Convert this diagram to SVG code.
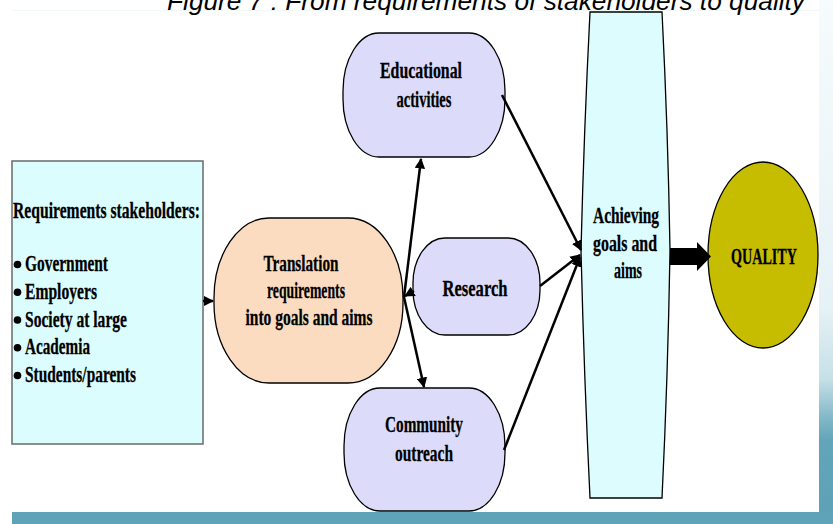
<svg xmlns="http://www.w3.org/2000/svg" width="833" height="524" viewBox="0 0 833 524">
  <defs>
    <linearGradient id="sideBar" x1="0" y1="0" x2="0" y2="1">
      <stop offset="0" stop-color="#f6fbfd"/>
      <stop offset="0.6" stop-color="#e6f2f6"/>
      <stop offset="0.74" stop-color="#c6e0e8"/>
      <stop offset="0.82" stop-color="#7fb6c6"/>
      <stop offset="0.86" stop-color="#62a5b9"/>
      <stop offset="1" stop-color="#5ea2b7"/>
    </linearGradient>
    <marker id="head" viewBox="0 0 10 10" refX="9" refY="5" markerWidth="4.2" markerHeight="4.2" orient="auto" markerUnits="strokeWidth">
      <path d="M0,0 L10,5 L0,10 Z" fill="#000"/>
    </marker>
    <style>
      .lbl { font-family: "Liberation Serif", "Times New Roman", serif; font-weight: bold; font-size: 24px; fill: #000; stroke: #000; stroke-width: 0.3; }
      .mid { text-anchor: middle; }
      .node { stroke: #000; stroke-width: 1.3; }
      .edge { stroke: #000; stroke-width: 2.5; fill: none; marker-end: url(#head); }
      .title { font-family: "Liberation Sans", Arial, sans-serif; font-style: italic; font-size: 26px; fill: #000; }
    </style>
  </defs>

  <!-- page background and slide frame -->
  <rect x="0" y="0" width="833" height="524" fill="#fff"/>
  <rect x="819" y="0" width="14" height="512" fill="url(#sideBar)"/>
  <rect x="12" y="512" width="821" height="12" fill="#5fa3b8"/>
  <line x1="12" y1="10.5" x2="819" y2="10.5" stroke="#f2f8f8" stroke-width="1"/>

  <text class="title" x="167" y="10" textLength="638" lengthAdjust="spacingAndGlyphs">Figure 7 : From requirements of stakeholders to quality</text>

  <!-- stakeholders box -->
  <g id="stakeholders">
    <rect x="12" y="161" width="191" height="283" fill="#dcfdfd" stroke="#6a6a6a" stroke-width="1.5"/>
    <text class="lbl" x="13" y="218" textLength="187" lengthAdjust="spacingAndGlyphs">Requirements stakeholders:</text>
    <g fill="#000">
      <circle cx="17.5" cy="264.5" r="3.8"/>
      <circle cx="17.5" cy="292.3" r="3.8"/>
      <circle cx="17.5" cy="320" r="3.8"/>
      <circle cx="17.5" cy="347.8" r="3.8"/>
      <circle cx="17.5" cy="375.5" r="3.8"/>
    </g>
    <text class="lbl" x="25" y="271" textLength="83" lengthAdjust="spacingAndGlyphs">Government</text>
    <text class="lbl" x="25" y="299" textLength="72" lengthAdjust="spacingAndGlyphs">Employers</text>
    <text class="lbl" x="25" y="327" textLength="102" lengthAdjust="spacingAndGlyphs">Society at large</text>
    <text class="lbl" x="25" y="354" textLength="65" lengthAdjust="spacingAndGlyphs">Academia</text>
    <text class="lbl" x="25" y="382" textLength="111" lengthAdjust="spacingAndGlyphs">Students/parents</text>
  </g>

  <!-- translation -->
  <g id="translation">
    <rect class="node" x="214" y="218" width="189" height="165" rx="55" ry="80" fill="#fcdcc0"/>
    <text class="lbl mid" x="301" y="271" textLength="75" lengthAdjust="spacingAndGlyphs">Translation</text>
    <text class="lbl mid" x="306" y="298" textLength="78" lengthAdjust="spacingAndGlyphs">requirements</text>
    <text class="lbl mid" x="309" y="325" textLength="127" lengthAdjust="spacingAndGlyphs">into goals and aims</text>
  </g>

  <!-- educational activities -->
  <g id="educational">
    <rect class="node" x="343" y="33" width="162" height="124" rx="36" ry="58" fill="#dcdcfa"/>
    <text class="lbl mid" x="421" y="78" textLength="82" lengthAdjust="spacingAndGlyphs">Educational</text>
    <text class="lbl mid" x="424" y="107" textLength="55" lengthAdjust="spacingAndGlyphs">activities</text>
  </g>

  <!-- research -->
  <g id="research">
    <rect class="node" x="413" y="238" width="127" height="97" rx="32" ry="45" fill="#dcdcfa"/>
    <text class="lbl mid" x="475" y="296" textLength="65" lengthAdjust="spacingAndGlyphs">Research</text>
  </g>

  <!-- community outreach -->
  <g id="community">
    <rect class="node" x="344" y="388" width="161" height="123" rx="36" ry="58" fill="#dcdcfa"/>
    <text class="lbl mid" x="424" y="432" textLength="78" lengthAdjust="spacingAndGlyphs">Community</text>
    <text class="lbl mid" x="424" y="461" textLength="58" lengthAdjust="spacingAndGlyphs">outreach</text>
  </g>

  <!-- achieving goals and aims -->
  <g id="achieving">
    <path class="node" d="M590,12 L662,12 Q668,130 670,250 Q668,375 662,498 L590,498 Q584,375 581,250 Q584,130 590,12 Z" fill="#dcfcfd" stroke-width="1.2"/>
    <text class="lbl mid" x="626" y="223" textLength="66" lengthAdjust="spacingAndGlyphs">Achieving</text>
    <text class="lbl mid" x="625" y="251" textLength="64" lengthAdjust="spacingAndGlyphs">goals and</text>
    <text class="lbl mid" x="628" y="278" textLength="28" lengthAdjust="spacingAndGlyphs">aims</text>
  </g>

  <!-- quality -->
  <g id="quality">
    <ellipse class="node" cx="763" cy="255" rx="55" ry="93" fill="#c6bd00"/>
    <text class="lbl mid" x="764" y="264" textLength="66" lengthAdjust="spacingAndGlyphs">QUALITY</text>
  </g>

  <!-- connectors -->
  <g id="connectors">
    <line class="edge" x1="203" y1="301" x2="213" y2="301"/>
    <line class="edge" x1="404" y1="297" x2="421" y2="159"/>
    <line class="edge" x1="404" y1="297" x2="424" y2="387"/>
    <line class="edge" x1="414" y1="291" x2="405" y2="296"/>
    <line class="edge" x1="502" y1="95" x2="581" y2="250"/>
    <line class="edge" x1="540" y1="286" x2="580" y2="255"/>
    <line class="edge" x1="504" y1="450" x2="580" y2="257"/>
    <path d="M670,248 L697,248 L697,242 L711,256.5 L697,271 L697,265 L670,265 Z" fill="#000"/>
  </g>
</svg>
